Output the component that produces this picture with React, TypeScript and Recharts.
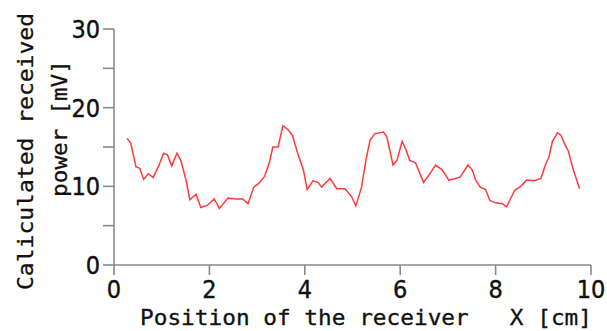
import React from "react";
import { LineChart, Line, XAxis, YAxis, Label } from "recharts";

const positions = [0.27,0.35,0.46,0.54,0.62,0.72,0.82,0.93,1.04,1.12,1.21,1.32,1.40,1.51,1.59,1.72,1.82,1.96,2.10,2.21,2.39,2.56,2.70,2.81,2.93,3.04,3.16,3.26,3.33,3.44,3.54,3.65,3.74,3.86,3.97,4.05,4.17,4.28,4.35,4.53,4.67,4.84,4.98,5.07,5.19,5.28,5.37,5.47,5.65,5.72,5.85,5.93,6.04,6.11,6.20,6.32,6.49,6.60,6.74,6.88,7.02,7.16,7.26,7.42,7.51,7.58,7.68,7.79,7.88,8.00,8.14,8.23,8.40,8.53,8.65,8.81,8.95,9.03,9.12,9.19,9.30,9.37,9.44,9.53,9.61,9.76];
const power = [16.1,15.5,12.5,12.3,10.9,11.6,11.1,12.5,14.2,14.0,12.6,14.2,13.3,10.8,8.3,9.0,7.3,7.6,8.4,7.2,8.5,8.4,8.4,7.8,9.9,10.4,11.3,13.1,15.0,15.0,17.7,17.2,16.5,14.0,12.1,9.6,10.7,10.5,9.9,11.0,9.7,9.7,8.7,7.5,9.9,13.3,15.9,16.7,16.9,16.3,12.7,13.3,15.7,14.8,13.3,13.0,10.5,11.4,12.7,12.1,10.8,11.0,11.2,12.7,12.1,10.8,9.9,9.6,8.2,7.9,7.8,7.4,9.5,10.0,10.8,10.7,11.0,12.5,13.8,15.7,16.8,16.5,15.5,14.4,12.5,9.7];
const xTicks = [0, 2, 4, 6, 8, 10];
const yTicks = [0, 5, 10, 15, 20, 25, 30];

const xTitle = "Position of the receiver   X [cm]";
const yTitle1 = "Caliculated received";
const yTitle2 = "power [mV]";

const data = positions.map((x, i) => ({ x, y: power[i] }));

const AXIS = "#8a8a8a";
const TICK_FONT = "'Liberation Sans Narrow', 'DejaVu Sans Condensed', 'Liberation Sans', sans-serif";
const MONO = "'DejaVu Sans Mono', 'Liberation Mono', monospace";

const YTick = (props: any) => {
  const { x, y, payload } = props;
  if (payload.value % 10 !== 0) return null;
  return (
    <text x={x} y={y} dy={9} textAnchor="end" fontFamily={TICK_FONT} fontSize={25} fill="#111" stroke="#111" strokeWidth={0.4}>
      {payload.value}
    </text>
  );
};

const XTick = (props: any) => {
  const { x, y, payload } = props;
  return (
    <text x={x} y={y} dy={21} textAnchor="middle" fontFamily={TICK_FONT} fontSize={25} fill="#111" stroke="#111" strokeWidth={0.4}>
      {payload.value}
    </text>
  );
};

const XTitle = () => (
  <text x={140} y={325} fontFamily={MONO} fontSize={21} fill="#111" stroke="#111" strokeWidth={0.3} textLength={452} lengthAdjust="spacingAndGlyphs" style={{ whiteSpace: "pre" }}>
    {xTitle}
  </text>
);

const YTitle = () => (
  <g>
    <text x={33} y={290} transform="rotate(-90, 33, 290)" fontFamily={MONO} fontSize={21} fill="#111" stroke="#111" strokeWidth={0.3} textLength={277} lengthAdjust="spacingAndGlyphs">
      {yTitle1}
    </text>
    <text x={67} y={197} transform="rotate(-90, 67, 197)" fontFamily={MONO} fontSize={21} fill="#111" stroke="#111" strokeWidth={0.3} textLength={137} lengthAdjust="spacingAndGlyphs">
      {yTitle2}
    </text>
  </g>
);

export default function App() {
  return (
    <div style={{ position: "absolute", left: 0, top: 0, width: 607, height: 331, background: "#fff" }}>
      <LineChart width={607} height={331} data={data} margin={{ top: 29, right: 16, bottom: 65, left: 113 }}>
        <XAxis
          dataKey="x"
          type="number"
          domain={[0, 10]}
          ticks={xTicks}
          tick={<XTick />}
          tickSize={10}
          tickMargin={2}
          height={1}
          axisLine={{ stroke: AXIS, strokeWidth: 1.6 }}
          tickLine={{ stroke: AXIS, strokeWidth: 1.6 }}
          interval={0}
        >
          <Label content={<XTitle />} />
        </XAxis>
        <YAxis
          type="number"
          domain={[0, 30]}
          ticks={yTicks}
          tick={<YTick />}
          tickSize={11}
          tickMargin={3}
          width={1}
          axisLine={{ stroke: AXIS, strokeWidth: 1.6 }}
          tickLine={{ stroke: AXIS, strokeWidth: 1.6 }}
          interval={0}
        >
          <Label content={<YTitle />} />
        </YAxis>
        <Line
          type="linear"
          dataKey="y"
          stroke="#ff3b3b"
          strokeWidth={1.5}
          dot={false}
          isAnimationActive={false}
        />
      </LineChart>
    </div>
  );
}
